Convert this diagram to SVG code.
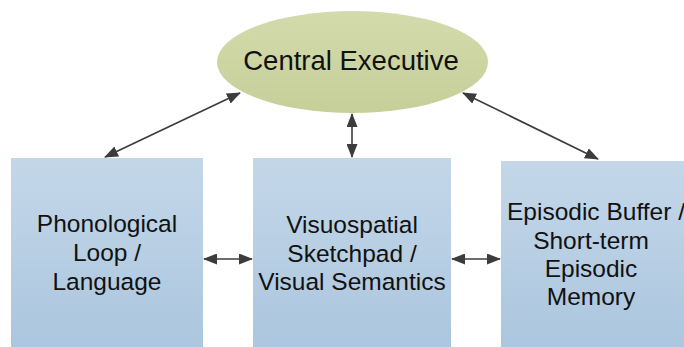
<svg xmlns="http://www.w3.org/2000/svg" width="684" height="347" viewBox="0 0 684 347">
<defs>
<linearGradient id="boxg" x1="0" y1="0" x2="0" y2="1">
<stop offset="0" stop-color="#c4d7e9"/>
<stop offset="1" stop-color="#abc6de"/>
</linearGradient>
<linearGradient id="ellg" x1="0" y1="0" x2="0" y2="1">
<stop offset="0" stop-color="#d3dbad"/>
<stop offset="1" stop-color="#c6cf98"/>
</linearGradient>
<marker id="ah" viewBox="0 0 14 11" refX="13" refY="5.5" markerWidth="14" markerHeight="11" markerUnits="userSpaceOnUse" orient="auto-start-reverse">
<path d="M0,0 L14,5.5 L0,11 Z" fill="#3c3c3c"/>
</marker>
</defs>
<style>
.box{fill:url(#boxg);}
.lbl{font-family:"Liberation Sans",Arial,sans-serif;font-size:24.5px;fill:#111;text-anchor:middle;}
.title{font-family:"Liberation Sans",Arial,sans-serif;font-size:27.5px;fill:#111;text-anchor:middle;}
.conn{stroke:#3c3c3c;stroke-width:1.6;fill:none;marker-start:url(#ah);marker-end:url(#ah);}
</style>
<rect width="684" height="347" fill="#ffffff"/>
<g id="central-executive">
<ellipse cx="352.5" cy="62" rx="135.5" ry="51" fill="url(#ellg)"/>
<text class="title" x="351" y="70">Central Executive</text>
</g>
<g id="phonological-loop">
<rect class="box" x="11" y="158" width="192" height="189"/>
<text class="lbl" x="107" y="232">Phonological</text>
<text class="lbl" x="107" y="261">Loop /</text>
<text class="lbl" x="107" y="290">Language</text>
</g>
<g id="visuospatial-sketchpad">
<rect class="box" x="253" y="158" width="198" height="189"/>
<text class="lbl" x="352" y="233">Visuospatial</text>
<text class="lbl" x="352" y="262">Sketchpad /</text>
<text class="lbl" x="352" y="290">Visual Semantics</text>
</g>
<g id="episodic-buffer">
<rect class="box" x="501" y="161" width="183" height="186"/>
<text class="lbl" x="596" y="220">Episodic Buffer /</text>
<text class="lbl" x="591" y="249">Short-term</text>
<text class="lbl" x="591" y="277">Episodic</text>
<text class="lbl" x="591" y="305">Memory</text>
</g>
<g id="connectors">
<line class="conn" x1="105" y1="157" x2="240" y2="93"/>
<line class="conn" x1="352" y1="114" x2="352" y2="157"/>
<line class="conn" x1="463" y1="93" x2="598" y2="159"/>
<line class="conn" x1="204" y1="259" x2="252" y2="259"/>
<line class="conn" x1="452" y1="259" x2="500" y2="259"/>
</g>
</svg>
